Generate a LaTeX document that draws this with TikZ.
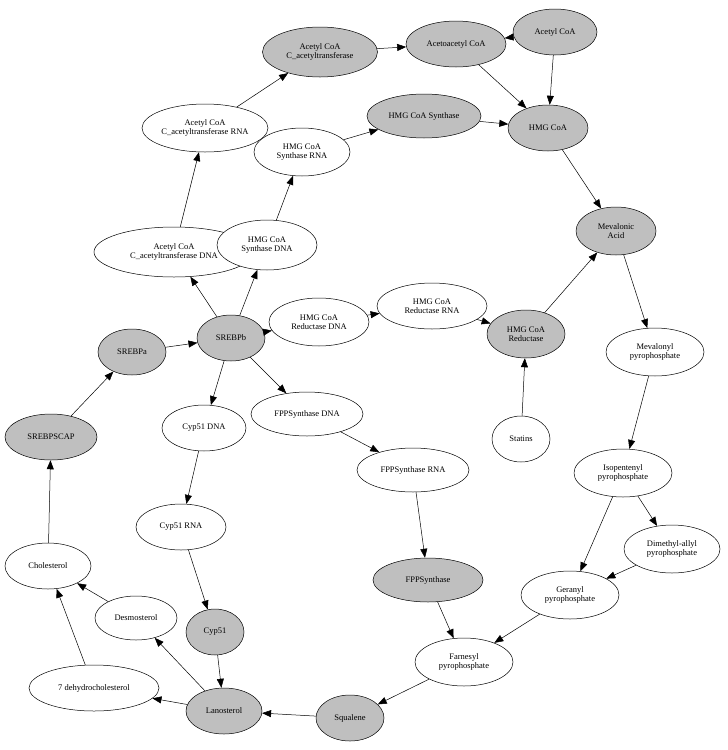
\documentclass[tikz,border=0pt]{standalone}
\usepackage{fontspec}
\setmainfont{Liberation Serif}
\usetikzlibrary{shapes.geometric,arrows.meta}
\begin{document}
\begin{tikzpicture}[x=1pt,y=-1pt,
 base/.style={ellipse,draw=black,line width=0.5pt,inner sep=0pt,align=center,font=\fontsize{8.5}{9.5}\selectfont,minimum height=46},
 g/.style={base,fill=black!25},
 w/.style={base,fill=white},
 e/.style={-{Triangle[length=9pt,width=7pt]},line width=0.5pt}]
\useasboundingbox (0,0) rectangle (728,750);
\node[g,minimum width=115,minimum height=50] (acct) at (320,52) {Acetyl CoA\\C\_acetyltransferase};
\node[g,minimum width=100] (acac) at (456,44) {Acetoacetyl CoA};
\node[g,minimum width=84] (accoa) at (555,32) {Acetyl CoA};
\node[g,minimum width=80] (hmgcoa) at (548,128) {HMG CoA};
\node[g,minimum width=114,minimum height=44] (hmgs) at (424,116) {HMG CoA Synthase};
\node[w,minimum width=126,minimum height=48] (acctr) at (205,128) {Acetyl CoA\\C\_acetyltransferase RNA};
\node[w,minimum width=96,minimum height=48] (hmgsr) at (302,152) {HMG CoA\\Synthase RNA};
\node[g,minimum width=80,minimum height=48] (mev) at (616,231) {Mevalonic\\Acid};
\node[w,minimum width=160,minimum height=50] (acctd) at (174,252) {Acetyl CoA\\C\_acetyltransferase DNA};
\node[w,minimum width=100,minimum height=50] (hmgsd) at (267,245) {HMG CoA\\Synthase DNA};
\node[g,minimum width=68] (sb) at (231,338) {SREBPb};
\node[g,minimum width=68] (sa) at (132,352) {SREBPa};
\node[w,minimum width=100,minimum height=48] (hmgrd) at (319,322) {HMG CoA\\Reductase DNA};
\node[w,minimum width=110] (hmgrr) at (432,306) {HMG CoA\\Reductase RNA};
\node[g,minimum width=78,minimum height=48] (hmgr) at (526,334) {HMG CoA\\Reductase};
\node[w,minimum width=98,minimum height=48] (mvp) at (655,352) {Mevalonyl\\pyrophosphate};
\node[g,minimum width=92] (scap) at (51,437) {SREBPSCAP};
\node[w,minimum width=84] (cypd) at (204,428) {Cyp51 DNA};
\node[w,minimum width=112,minimum height=44] (fppsd) at (307,414) {FPPSynthase DNA};
\node[w,minimum width=58] (stat) at (521,439) {Statins};
\node[w,minimum width=112,minimum height=44] (fppsr) at (413,470) {FPPSynthase RNA};
\node[w,minimum width=98,minimum height=48] (ipp) at (623,473) {Isopentenyl\\pyrophosphate};
\node[w,minimum width=90] (cypr) at (181,527) {Cyp51 RNA};
\node[w,minimum width=96,minimum height=48] (dmap) at (672,549) {Dimethyl-allyl\\pyrophosphate};
\node[w,minimum width=86] (chol) at (48,566) {Cholesterol};
\node[g,minimum width=110,minimum height=44] (fpps) at (428,580) {FPPSynthase};
\node[w,minimum width=98,minimum height=48] (gpp) at (570,595) {Geranyl\\pyrophosphate};
\node[w,minimum width=82,minimum height=44] (desm) at (136,618) {Desmosterol};
\node[g,minimum width=58] (cyp) at (215,632) {Cyp51};
\node[w,minimum width=98,minimum height=48] (fpp) at (464,662) {Farnesyl\\pyrophosphate};
\node[w,minimum width=130] (dhc) at (94,688) {7 dehydrocholesterol};
\node[g,minimum width=76] (lan) at (224,711) {Lanosterol};
\node[g,minimum width=68] (sq) at (350,718) {Squalene};
\foreach \a/\b in {acct/acac,accoa/acac,acac/hmgcoa,accoa/hmgcoa,hmgs/hmgcoa,hmgcoa/mev,
 acctr/acct,hmgsr/hmgs,acctd/acctr,hmgsd/hmgsr,sb/acctd,sb/hmgsd,sb/hmgrd,sb/cypd,sb/fppsd,
 sa/sb,hmgrd/hmgrr,hmgrr/hmgr,hmgr/mev,stat/hmgr,mev/mvp,mvp/ipp,ipp/gpp,ipp/dmap,dmap/gpp,
 gpp/fpp,fpps/fpp,fpp/sq,sq/lan,lan/dhc,lan/desm,cyp/lan,cypr/cyp,cypd/cypr,fppsd/fppsr,
 fppsr/fpps,dhc/chol,desm/chol,chol/scap,scap/sa}
 \draw[e] (\a) -- (\b);
\end{tikzpicture}
\end{document}
